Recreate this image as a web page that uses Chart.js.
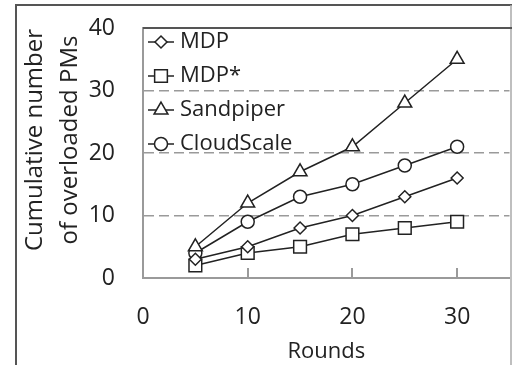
<!DOCTYPE html>
<html>
<head>
<meta charset="utf-8">
<script src="https://cdn.jsdelivr.net/npm/chart.js@4.4.1/dist/chart.umd.min.js"></script>
<style>
  html, body { margin: 0; padding: 0; background: #fff; overflow: hidden; }
  #wrap { width: 520px; height: 365px; }
</style>
</head>
<body>
<div id="wrap"><canvas id="roundsChart" width="520" height="365"></canvas></div>
<script>
// values
const rounds = [5, 10, 15, 20, 25, 30];
const seriesNames = ['MDP', 'MDP*', 'Sandpiper', 'CloudScale'];
const mdp = [3, 5, 8, 10, 13, 16];
const mdpStar = [2, 4, 5, 7, 8, 9];
const sandpiper = [5, 12, 17, 21, 28, 35];
const cloudScale = [4, 9, 13, 15, 18, 21];
const xTicks = [0, 10, 20, 30];
const yTicks = [0, 10, 20, 30, 40];

const INK = '#222';
const GRID = '#9a9a9a';
const NONE = 'rgba(0,0,0,0)';
Chart.defaults.font.family = "'Open Sans', sans-serif";
Chart.defaults.color = INK;

function pts(vals) {
  return vals.map(function (v, i) { return { x: rounds[i], y: v }; });
}

function mkSet(label, vals, style, r) {
  return {
    label: label,
    data: pts(vals),
    borderColor: INK,
    borderWidth: 1.5,
    pointStyle: style,
    pointRadius: r,
    pointHoverRadius: r,
    pointBorderWidth: 1.5,
    pointBorderColor: INK,
    pointBackgroundColor: '#fff',
    fill: false,
    tension: 0
  };
}

// same geometry as chart.js markers, used for the legend
function marker(ctx, style, x, y, r) {
  ctx.beginPath();
  if (style === 'circle') {
    ctx.arc(x, y, r, 0, Math.PI * 2);
  } else if (style === 'rect') {
    const s = Math.SQRT1_2 * r;
    ctx.rect(x - s, y - s, 2 * s, 2 * s);
  } else if (style === 'rectRot') {
    ctx.moveTo(x - r, y); ctx.lineTo(x, y - r); ctx.lineTo(x + r, y); ctx.lineTo(x, y + r);
  } else if (style === 'triangle') {
    let a = 0;
    ctx.moveTo(x + Math.sin(a) * r, y - Math.cos(a) * r);
    a += Math.PI * 2 / 3;
    ctx.lineTo(x + Math.sin(a) * r, y - Math.cos(a) * r);
    a += Math.PI * 2 / 3;
    ctx.lineTo(x + Math.sin(a) * r, y - Math.cos(a) * r);
  }
  ctx.closePath();
  ctx.fillStyle = '#fff';
  ctx.fill();
  ctx.stroke();
}

const decor = {
  id: 'decor',
  beforeDraw: function (chart) {
    const ctx = chart.ctx;
    ctx.save();
    // outer frame
    ctx.strokeStyle = '#555';
    ctx.lineWidth = 2;
    ctx.beginPath();
    ctx.moveTo(16, 365); ctx.lineTo(16, 5); ctx.lineTo(520, 5);
    ctx.stroke();
    ctx.strokeStyle = '#aaa';
    ctx.lineWidth = 1.5;
    ctx.beginPath();
    ctx.moveTo(511, 5); ctx.lineTo(511, 365);
    ctx.stroke();
    ctx.restore();
  },
  afterDraw: function (chart) {
    const ctx = chart.ctx;
    const area = chart.chartArea;
    const xs = chart.scales.x;
    ctx.save();
    // top edge of plot
    ctx.strokeStyle = '#555';
    ctx.lineWidth = 2;
    ctx.beginPath();
    ctx.moveTo(area.left, area.top); ctx.lineTo(520, area.top);
    ctx.stroke();
    // inside tick marks on x axis
    ctx.strokeStyle = GRID;
    ctx.lineWidth = 2;
    xTicks.forEach(function (v) {
      if (v === 0) return;
      const px = Math.round(xs.getPixelForValue(v));
      ctx.beginPath();
      ctx.moveTo(px, area.bottom); ctx.lineTo(px, area.bottom - 10);
      ctx.stroke();
    });
    // y axis title, two lines
    ctx.fillStyle = INK;
    ctx.font = "24px 'Open Sans', sans-serif";
    ctx.textAlign = 'center';
    ctx.textBaseline = 'middle';
    [['Cumulative number', 35], ['of overloaded PMs', 70]].forEach(function (l) {
      ctx.save();
      ctx.translate(l[1], 140);
      ctx.rotate(-Math.PI / 2);
      ctx.fillText(l[0], 0, 0);
      ctx.restore();
    });
    // legend inside the plot, top left
    ctx.font = "22px 'Open Sans', sans-serif";
    ctx.textAlign = 'left';
    chart.data.datasets.forEach(function (ds, i) {
      const y = 42 + i * 34;
      ctx.strokeStyle = INK;
      ctx.lineWidth = 1.5;
      ctx.beginPath();
      ctx.moveTo(148, y); ctx.lineTo(174, y);
      ctx.stroke();
      marker(ctx, ds.pointStyle, 161, y, ds.pointRadius);
      ctx.fillStyle = INK;
      ctx.fillText(ds.label, 180, y);
    });
    ctx.restore();
  }
};

new Chart(document.getElementById('roundsChart'), {
  type: 'line',
  data: {
    datasets: [
      mkSet(seriesNames[0], mdp, 'rectRot', 6),
      mkSet(seriesNames[1], mdpStar, 'rect', 9),
      mkSet(seriesNames[2], sandpiper, 'triangle', 8),
      mkSet(seriesNames[3], cloudScale, 'circle', 6.5)
    ]
  },
  options: {
    responsive: false,
    animation: false,
    layout: { padding: { top: 28, right: 2, left: 0, bottom: 0 } },
    plugins: { legend: { display: false }, tooltip: { enabled: false } },
    scales: {
      x: {
        type: 'linear',
        min: 0,
        max: 35,
        afterFit: function (s) { s.height = 87; },
        afterBuildTicks: function (s) { s.ticks = xTicks.map(function (v) { return { value: v }; }); },
        ticks: { font: { size: 23 }, padding: 2, color: INK },
        grid: { display: true, drawOnChartArea: false, drawTicks: true, tickLength: 24, tickColor: NONE, color: NONE },
        border: { display: true, color: GRID, width: 2 },
        title: { display: true, text: 'Rounds', font: { size: 22 }, color: INK, padding: { top: 0, bottom: 0 } }
      },
      y: {
        min: 0,
        max: 40,
        afterFit: function (s) { s.width = 143; },
        afterBuildTicks: function (s) { s.ticks = yTicks.map(function (v) { return { value: v }; }); },
        ticks: { font: { size: 23 }, padding: 2, color: INK },
        grid: {
          drawTicks: true,
          tickLength: 26,
          tickColor: NONE,
          lineWidth: 1.5,
          color: function (c) {
            const v = c.tick && c.tick.value;
            return (v > 0 && v < 40) ? GRID : NONE;
          }
        },
        border: { display: true, color: GRID, width: 2, dash: [10, 5] }
      }
    }
  },
  plugins: [decor]
});
</script>
</body>
</html>
